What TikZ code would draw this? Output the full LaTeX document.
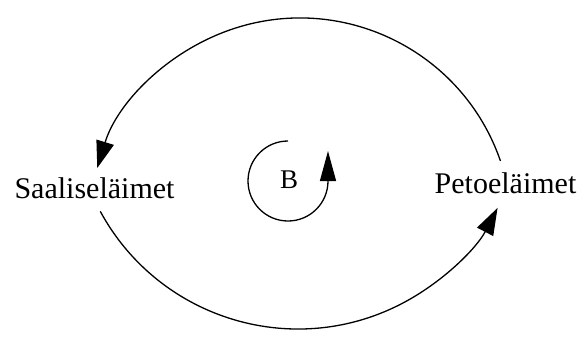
\documentclass[tikz,border=0pt]{standalone}
\usepackage{fontspec}
\setmainfont{Liberation Serif}
\usetikzlibrary{arrows.meta}
\tikzset{
  lbl/.style={inner sep=0pt, anchor=base, font=\fontsize{30}{36}\selectfont},
  loopl/.style={inner sep=0pt, anchor=base, font=\fontsize{27}{32}\selectfont},
  link/.style={line width=1.3pt, -{Triangle[length=27pt, width=18pt]}},
  looparrow/.style={line width=1.3pt, -{Triangle[length=30pt, width=16pt]}}
}
\begin{document}
\begin{tikzpicture}[x=1pt, y=-1pt]
\useasboundingbox (0,0) rectangle (577,345);
\node[lbl] (S) at (94.5,198) {Saaliseläimet};
\node[lbl] (P) at (505.5,193) {Petoeläimet};
\node[loopl] (B) at (289,188) {B};
% arc ends
\coordinate (ptop) at ({300+212*cos(-19)},{230+212*sin(-19)});
\coordinate (sbot) at ({298+225*cos(151.5)},{104+225*sin(151.5)});
\coordinate (btop) at (288,141);
% top link: Petoeläimet -> Saaliseläimet
\draw[link] (ptop) arc[start angle=-19, end angle=-163, radius=212];
% bottom link: Saaliseläimet -> Petoeläimet
\draw[link] (sbot) arc[start angle=151.5, end angle=27.5, radius=225];
% loop marker
\draw[looparrow] (btop) arc[start angle=-90, end angle=-360, radius=40] -- ++(0,-30);
\end{tikzpicture}
\end{document}
